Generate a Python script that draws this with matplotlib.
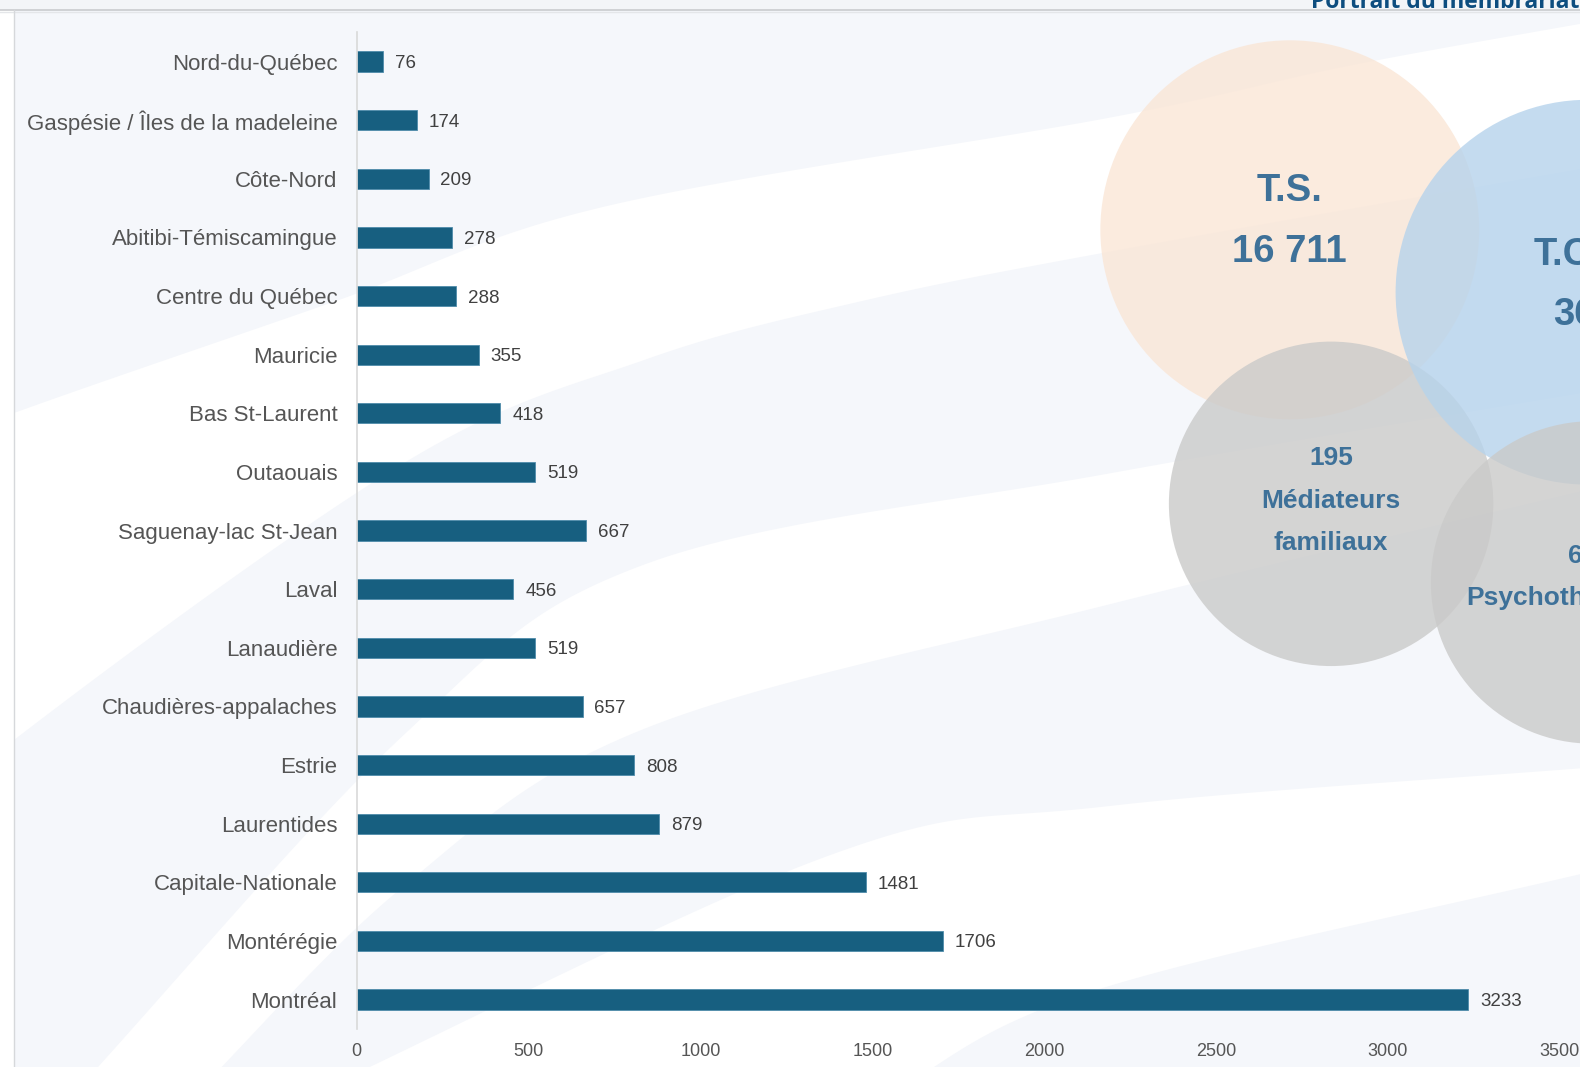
import matplotlib
matplotlib.use("Agg")
import matplotlib.pyplot as plt
from matplotlib.patches import Polygon, Circle, Rectangle
import numpy as np

# ---------------- data ----------------
regions = ["Nord-du-Québec", "Gaspésie / Îles de la madeleine", "Côte-Nord",
           "Abitibi-Témiscamingue", "Centre du Québec", "Mauricie",
           "Bas St-Laurent", "Outaouais", "Saguenay-lac St-Jean", "Laval",
           "Lanaudière", "Chaudières-appalaches", "Estrie", "Laurentides",
           "Capitale-Nationale", "Montérégie", "Montréal"]
members = [76, 174, 209, 278, 288, 355, 418, 519, 667, 456, 519, 657,
           808, 879, 1481, 1706, 3233]
xticks = [0, 500, 1000, 1500, 2000, 2500, 3000, 3500]

circle_titles = ["T.S.", "T.C.F.", "Médiateurs\nfamiliaux", "Psychothérapeutes"]
circle_counts = ["16 711", "360", "195", "6"]
title_text = "Portrait du membrariat"

# ---------------- figure ----------------
W_px, H_px = 1580, 1067
W, H = 1568.0, 1067 * 1568.0 / 1580   # layout units
fig = plt.figure(figsize=(W_px / 100, H_px / 100), dpi=100)
fig.patch.set_facecolor("white")

bg = fig.add_axes([0, 0, 1, 1], zorder=0)
bg.set_xlim(0, W)
bg.set_ylim(H, 0)
bg.axis("off")

light = "#f5f7fb"

def catmull(pts, n=30):
    p = np.array(pts, dtype=float)
    p = np.vstack([2 * p[0] - p[1], p, 2 * p[-1] - p[-2]])
    out = []
    for i in range(1, len(p) - 2):
        p0, p1, p2, p3 = p[i - 1], p[i], p[i + 1], p[i + 2]
        t = np.linspace(0, 1, n)[:, None]
        seg = 0.5 * ((2 * p1) + (-p0 + p2) * t + (2 * p0 - 5 * p1 + 4 * p2 - p3) * t ** 2
                     + (-p0 + 3 * p1 - 3 * p2 + p3) * t ** 3)
        out.append(seg)
    return np.vstack(out)

C1 = catmull([(-100, 460), (0, 415), (330, 300), (600, 205), (1100, 117), (1340, 65), (1600, 18)])
C2 = catmull([(-300, 1000), (0, 745), (400, 460), (640, 357), (850, 300), (1100, 250), (1600, 162)])
C3 = catmull([(60, 1100), (400, 730), (640, 560), (1100, 470), (1600, 385)])
C4 = catmull([(180, 1100), (400, 880), (640, 723), (1100, 600), (1600, 480)])
C5 = catmull([(280, 1100), (820, 850), (1100, 800), (1600, 760)])
C6 = catmull([(860, 1100), (1080, 985), (1600, 860)])

def band(top, bottom):
    return np.vstack([top, bottom[::-1]])

bg.add_patch(Polygon(np.vstack([[[-100, -10]], C1, [[1600, -10]]]), closed=True, fc=light, ec="none"))
bg.add_patch(Polygon(band(C2, np.vstack([[[-300, 1200]], C3])), closed=True, fc=light, ec="none"))
bg.add_patch(Polygon(band(C4, np.vstack([[[180, 1200]], C5])), closed=True, fc=light, ec="none"))
bg.add_patch(Polygon(np.vstack([C6, [[1600, 1200], [860, 1200]]]), closed=True, fc=light, ec="none"))

# slide frame
bg.add_patch(Rectangle((-5, -5), W + 10, 15, fc="#f3f5f8", ec="none"))
bg.add_patch(Rectangle((-5, 10), 19, H + 10, fc="white", ec="none"))
bg.plot([0, W], [10, 10], color="#c9cbce", lw=1.2)
bg.plot([0, W], [11.5, 11.5], color="#e4e6e9", lw=1.0)
bg.plot([14, 14], [10, H], color="#d6d8db", lw=1.0)

bg.text(1301, 7.5, title_text, ha="left", va="baseline",
        fontsize=16.5, fontweight="bold", color="#0d4d7f",
        family=["Open Sans", "DejaVu Sans"])

# ---------------- bar chart ----------------
x0, x1 = 354, 1548
y_top, y_bot = 32, 1021
ax = fig.add_axes([x0 / W, 1 - y_bot / H, (x1 - x0) / W, (y_bot - y_top) / H], zorder=1)
ax.set_facecolor("none")

n = len(regions)
ypos = np.arange(n)
bar_color = "#175f80"
ax.barh(ypos, members, height=0.345, color=bar_color, edgecolor="#4f8caa", linewidth=0.6)
ax.set_ylim(n - 0.5, -0.5)
ax.set_xlim(0, 3500)

ax.set_yticks(ypos)
ax.set_yticklabels(regions, fontsize=16, color="#555555", family=["Liberation Sans", "DejaVu Sans"])
ax.set_xticks(xticks)
ax.set_xticklabels([str(t) for t in xticks], fontsize=13, color="#555555",
                   family=["Liberation Sans Narrow", "Liberation Sans", "DejaVu Sans"])
ax.tick_params(axis="y", length=0, pad=14)
ax.tick_params(axis="x", length=0, pad=10)
for s in ["top", "right", "bottom"]:
    ax.spines[s].set_visible(False)
ax.spines["left"].set_color("#d9d9d9")
ax.spines["left"].set_linewidth(1.2)

for yv, v in zip(ypos, members):
    ax.annotate(str(v), (v, yv), xytext=(8.5, -1.5), textcoords="offset points",
                ha="left", va="center", fontsize=13.5, color="#404040",
                family=["Liberation Sans Narrow", "Liberation Sans", "DejaVu Sans"])

# ---------------- circles overlay ----------------
ov = fig.add_axes([0, 0, 1, 1], zorder=2)
ov.set_xlim(0, W)
ov.set_ylim(H, 0)
ov.axis("off")
ov.set_facecolor("none")

circ_spec = [  # (cx, cy, r, color)
    (1280, 228, 188, "#fae6d6"),
    (1576, 290, 191, "#b6d3ec"),
    (1321, 500, 161, "#cacac9"),
    (1580, 578, 160, "#cacac9"),
]
for i in [0, 2, 1, 3]:
    cx, cy, r, c = circ_spec[i]
    ov.add_patch(Circle((cx, cy), r, fc=c, ec="none", alpha=0.8))

txt_color = "#3e7199"
bold = dict(fontweight="bold", color=txt_color, ha="center", va="center",
            family=["Liberation Sans", "DejaVu Sans"])
ov.text(1280, 190, circle_titles[0], fontsize=27.5, **bold)
ov.text(1280, 250, circle_counts[0], fontsize=27.5, **bold)
ov.text(1570, 253, circle_titles[1], fontsize=27.5, **bold)
ov.text(1573, 313, circle_counts[1], fontsize=27.5, **bold)
ov.text(1321, 455, circle_counts[2], fontsize=19, **bold)
med = circle_titles[2].split("\n")
ov.text(1321, 497, med[0], fontsize=19, **bold)
ov.text(1321, 539, med[1], fontsize=19, **bold)
ov.text(1556, 552, circle_counts[3], fontsize=19, fontweight="bold", color=txt_color,
        ha="left", va="center", family=["Liberation Sans", "DejaVu Sans"])
ov.text(1576, 593, circle_titles[3], fontsize=19, **bold)

fig.savefig("out.png", dpi=100, facecolor=fig.get_facecolor())
